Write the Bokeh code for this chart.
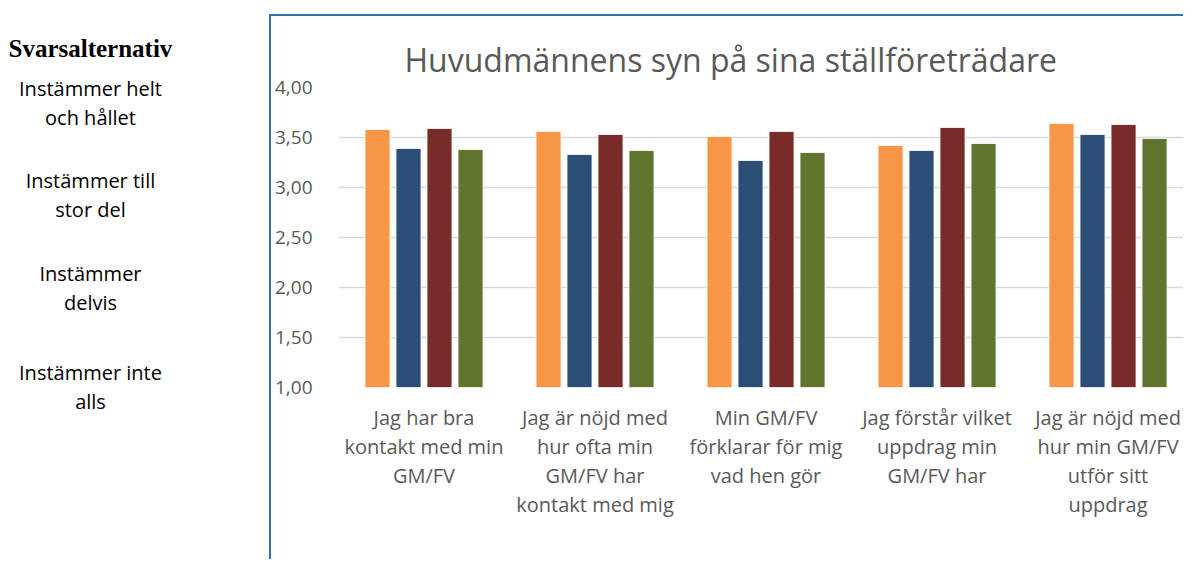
from bokeh.plotting import figure
from bokeh.layouts import row
from bokeh.models import Range1d, FixedTicker, ColumnDataSource
from bokeh.core.properties import value
from bokeh.transform import dodge
from bokeh.embed import file_html
from bokeh.resources import INLINE

# ---- data ----
categories = [
    "Jag har bra\nkontakt med min\nGM/FV",
    "Jag är nöjd med\nhur ofta min\nGM/FV har\nkontakt med mig",
    "Min GM/FV\nförklarar för mig\nvad hen gör",
    "Jag förstår vilket\nuppdrag min\nGM/FV har",
    "Jag är nöjd med\nhur min GM/FV\nutför sitt\nuppdrag",
]
series_orange = [3.58, 3.56, 3.51, 3.42, 3.64]
series_blue = [3.39, 3.33, 3.27, 3.37, 3.53]
series_red = [3.59, 3.53, 3.56, 3.60, 3.63]
series_green = [3.38, 3.37, 3.35, 3.44, 3.49]
y_ticks = [1.0, 1.5, 2.0, 2.5, 3.0, 3.5, 4.0]
answer_options = ["Instämmer helt\noch hållet", "Instämmer till\nstor del", "Instämmer\ndelvis", "Instämmer inte\nalls"]
answer_values = [4, 3, 2, 1]
answer_heading = "Svarsalternativ"
title_text = "Huvudmännens syn på sina ställföreträdare"

colors = ["#F79646", "#2C4D75", "#772C2A", "#5F7530"]
series = [series_orange, series_blue, series_red, series_green]
GRAY = "#595959"
BLUE = "#2E75B6"

# ---------------- main chart ----------------
xs = [i + 0.5 for i in range(len(categories))]
data = dict(x=xs)
for k, s in enumerate(series):
    data[f"s{k}"] = s
source = ColumnDataSource(data)

MW, MH = 914, 545
p = figure(width=MW, height=MH, output_backend="svg", toolbar_location=None,
           title=title_text,
           x_range=Range1d(0, 4.953), y_range=Range1d(1, 4),
           min_border_left=67, min_border_right=0, min_border_top=71, min_border_bottom=174)
p.margin = (14, 0, 0, 0)
p.frame_align = False
p.styles = {"border-left": f"2px solid {BLUE}", "border-top": f"2px solid {BLUE}"}
p.outline_line_color = None

p.title.align = "left"
p.title.offset = 66
p.title.text_font = "Open Sans"
p.title.text_font_size = "32px"
p.title.text_font_style = "normal"
p.title.text_color = GRAY
p.title.standoff = 14

step = 31 / 171
bw = 25 / 171
for k in range(4):
    p.vbar(x=dodge("x", (k - 1.5) * step, range=p.x_range), top=f"s{k}", bottom=1.0,
           width=bw, source=source, fill_color=colors[k], line_color="white", line_width=0.8)

p.xgrid.grid_line_color = None
p.ygrid.ticker = FixedTicker(ticks=y_ticks)
p.ygrid.grid_line_color = "#D9D9D9"
p.ygrid.grid_line_width = 1.6

p.yaxis.ticker = FixedTicker(ticks=y_ticks)
p.yaxis.major_label_overrides = {t: f"{t:.2f}".replace(".", ",") for t in y_ticks}
p.yaxis.axis_line_color = None
p.yaxis.major_tick_line_color = None
p.yaxis.minor_tick_line_color = None
p.yaxis.major_label_text_font = "Open Sans"
p.yaxis.major_label_text_font_size = "19px"
p.yaxis.major_label_text_color = GRAY
p.yaxis.major_label_standoff = 20

p.xaxis.ticker = FixedTicker(ticks=xs)
p.xaxis.major_label_overrides = {x: c for x, c in zip(xs, categories)}
p.xaxis.axis_line_color = None
p.xaxis.major_tick_line_color = None
p.xaxis.minor_tick_line_color = None
p.xaxis.major_label_text_font = "Open Sans"
p.xaxis.major_label_text_font_size = "20px"
p.xaxis.major_label_text_color = GRAY
p.xaxis.major_label_text_line_height = 1.08
p.xaxis.major_label_standoff = 10

# ---------------- left panel (answer scale) ----------------
LW, LH = 269, 561
left = figure(width=LW, height=LH, output_backend="svg", toolbar_location=None,
              x_range=Range1d(0, LW), y_range=Range1d(1 - 1.74, 4 + 0.87),
              min_border=0, min_border_left=0, min_border_right=0, min_border_top=0, min_border_bottom=0)
left.frame_align = False
left.axis.visible = False
left.grid.visible = False
left.outline_line_color = None

left.text(x=[8], y=[4.39], text=[answer_heading], text_align="left", text_baseline="middle",
          text_font=value("Liberation Serif"), text_font_style="bold", text_font_size="25px",
          text_color="black")

offsets = [-0.155, -0.075, 0.0, 0.01]
lx, ly, lt = [], [], []
for opt, v, off in zip(answer_options, answer_values, offsets):
    lines = opt.split("\n")
    n = len(lines)
    for j, ln in enumerate(lines):
        lx.append(90)
        ly.append(v + off + (n - 1) / 2 * 0.29 - j * 0.29)
        lt.append(ln)
left.text(x=lx, y=ly, text=lt, text_align="center", text_baseline="middle",
          text_font=value("Open Sans"), text_font_size="20px", text_color="black")

layout = row(left, p)
open("out.html", "w").write(file_html(layout, INLINE))
